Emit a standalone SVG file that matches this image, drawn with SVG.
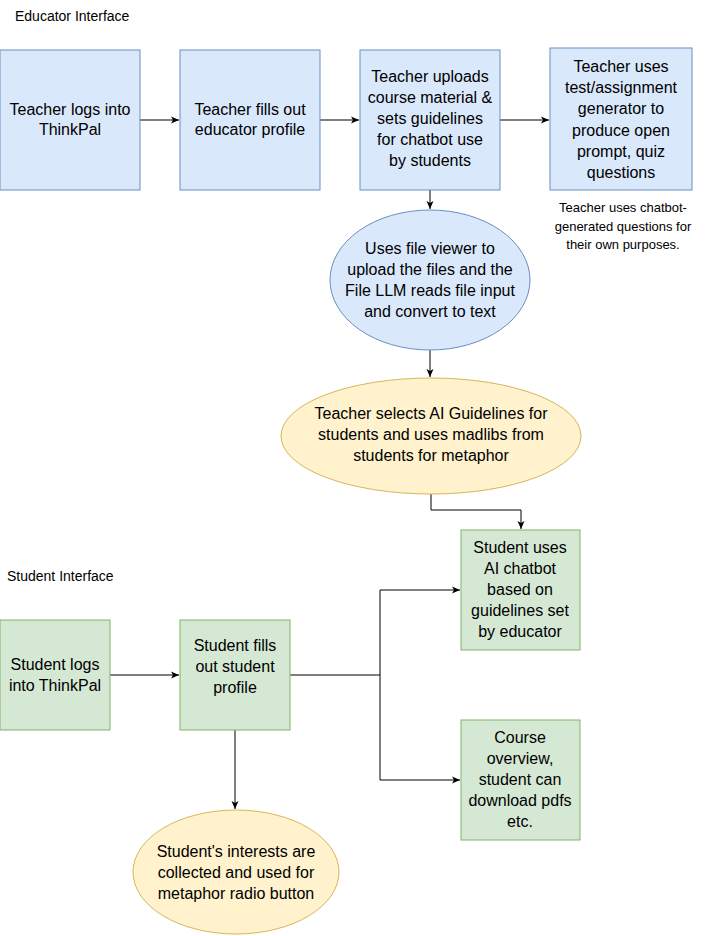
<svg xmlns="http://www.w3.org/2000/svg" width="712" height="936" viewBox="0 0 712 936">
<style>
text{font-family:"Liberation Sans",Arial,sans-serif;font-size:16px;fill:#000;text-anchor:middle}
.lbl{text-anchor:start;font-size:14px}
.cap{font-size:13px}
.b{fill:#dae8fc;stroke:#6c8ebf}
.y{fill:#fff2cc;stroke:#d6b656}
.g{fill:#d5e8d4;stroke:#82b366}
.c{fill:none;stroke:#000;stroke-width:1}
</style>
<defs><marker id="a" markerWidth="10" markerHeight="10" refX="9" refY="5" orient="auto" markerUnits="userSpaceOnUse"><path d="M1,1.5 L9,5 L1,8.5 L3,5 Z" fill="#000"/></marker></defs>
<rect width="712" height="936" fill="#fff"/>
<text class="lbl" x="15" y="21">Educator Interface</text>
<text class="lbl" x="7" y="581">Student Interface</text>
<g id="connectors">
<path class="c" marker-end="url(#a)" d="M140,120 H179"/>
<path class="c" marker-end="url(#a)" d="M320,120 H359"/>
<path class="c" marker-end="url(#a)" d="M500,120 H549"/>
<path class="c" marker-end="url(#a)" d="M430,190 V209"/>
<path class="c" marker-end="url(#a)" d="M430,350 V377"/>
<path class="c" marker-end="url(#a)" d="M431,494 V510 H521 V529"/>
<path class="c" marker-end="url(#a)" d="M110,675 H179"/>
<path class="c" marker-end="url(#a)" d="M290,675 H380 V590 H460"/>
<path class="c" marker-end="url(#a)" d="M380,675 V780 H460"/>
<path class="c" marker-end="url(#a)" d="M235,730 V809"/>
</g>
<g id="n1"><rect class="b" x="0" y="50" width="140" height="140"/><text x="70" y="115">Teacher logs into</text><text x="70" y="135">ThinkPal</text></g>
<g id="n2"><rect class="b" x="180" y="50" width="140" height="140"/><text x="250" y="115">Teacher fills out</text><text x="250" y="135">educator profile</text></g>
<g id="n3"><rect class="b" x="360" y="50" width="140" height="140"/><text x="430" y="82">Teacher uploads</text><text x="430" y="103">course material &amp;</text><text x="430" y="124">sets guidelines</text><text x="430" y="145">for chatbot use</text><text x="430" y="166">by students</text></g>
<g id="n4"><rect class="b" x="550" y="48" width="142" height="142"/><text x="621" y="72">Teacher uses</text><text x="621" y="93">test/assignment</text><text x="621" y="114">generator to</text><text x="621" y="136">produce open</text><text x="621" y="157">prompt, quiz</text><text x="621" y="178">questions</text></g>
<g id="cap"><text class="cap" x="623" y="212">Teacher uses chatbot-</text><text class="cap" x="623" y="231">generated questions for</text><text class="cap" x="623" y="249">their own purposes.</text></g>
<g id="e1"><ellipse class="b" cx="430" cy="280" rx="100" ry="70"/><text x="430" y="254">Uses file viewer to</text><text x="430" y="275">upload the files  and the</text><text x="430" y="296">File LLM reads file input</text><text x="430" y="317">and convert to text</text></g>
<g id="e2"><ellipse class="y" cx="431" cy="436" rx="150" ry="58"/><text x="431" y="419">Teacher selects AI Guidelines for</text><text x="431" y="440">students and uses madlibs from</text><text x="431" y="461">students for metaphor</text></g>
<g id="n5"><rect class="g" x="461" y="530" width="119" height="120"/><text x="520" y="553">Student uses</text><text x="520" y="574">AI chatbot</text><text x="520" y="595">based on</text><text x="520" y="616">guidelines set</text><text x="520" y="637">by educator</text></g>
<g id="n6"><rect class="g" x="0" y="620" width="110" height="110"/><text x="55" y="670">Student logs</text><text x="55" y="691">into ThinkPal</text></g>
<g id="n7"><rect class="g" x="180" y="620" width="110" height="110"/><text x="235" y="651">Student fills</text><text x="235" y="672">out student</text><text x="235" y="693">profile</text></g>
<g id="n8"><rect class="g" x="461" y="720" width="119" height="120"/><text x="520" y="743">Course</text><text x="520" y="764">overview,</text><text x="520" y="785">student can</text><text x="520" y="806">download pdfs</text><text x="520" y="827">etc.</text></g>
<g id="e3"><ellipse class="y" cx="236" cy="872" rx="103" ry="62"/><text x="236" y="857">Student's interests are</text><text x="236" y="878">collected and used for</text><text x="236" y="899">metaphor radio button</text></g>
</svg>
